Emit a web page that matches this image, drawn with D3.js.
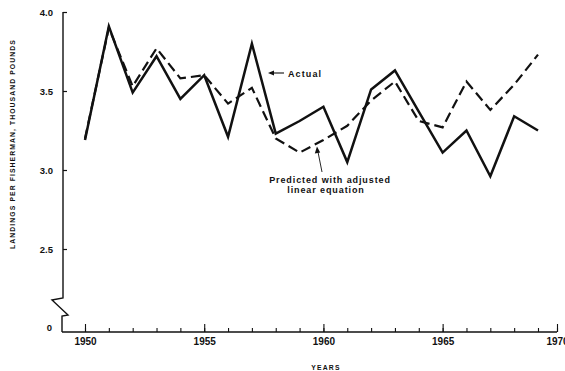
<!DOCTYPE html>
<html>
<head>
<meta charset="utf-8">
<script src="https://cdn.jsdelivr.net/npm/d3@7"></script>
<style>
  html, body { margin: 0; padding: 0; background: #fff; }
  svg { display: block; }
  text { font-family: "Liberation Sans", Arial, sans-serif; font-weight: bold; fill: #111; }
</style>
</head>
<body>
<svg id="chart" width="565" height="371"></svg>
<script>
// Landings per fisherman (thousand pounds), 1950-1969
const years = d3.range(1950, 1970);
const actual = [3.19, 3.91, 3.49, 3.72, 3.45, 3.60, 3.21, 3.80, 3.23, 3.31,
                3.40, 3.05, 3.51, 3.63, 3.37, 3.11, 3.25, 2.96, 3.34, 3.25];
const predicted = [3.20, 3.90, 3.53, 3.77, 3.58, 3.60, 3.42, 3.52, 3.20, 3.11,
                   3.19, 3.28, 3.44, 3.56, 3.31, 3.27, 3.56, 3.38, 3.54, 3.73];
const yTickValues = [2.5, 3.0, 3.5, 4.0];
const xLabelYears = [1950, 1955, 1960, 1965, 1970];

const svg = d3.select("#chart");

const x = d3.scaleLinear().domain([1950, 1969, 1970]).range([85, 538, 557]);
const y = d3.scaleLinear().domain([2.5, 4.0]).range([249, 12]);

const axisX = 63;      // vertical axis position
const baseY = 332;     // horizontal axis (zero) position
const breakTop = 298;  // where the broken axis zigzag starts

const ink = "#111";

// Vertical axis with break
svg.append("path")
  .attr("d", `M${axisX},${y(4.0)} L${axisX},${breakTop} L${axisX - 11},${breakTop + 2} L${axisX + 5},${breakTop + 17} L${axisX - 1},${breakTop + 18} L${axisX - 1},${baseY}`)
  .attr("fill", "none").attr("stroke", ink).attr("stroke-width", 1.4);

const yAxis = svg.append("g")
  .attr("transform", `translate(${axisX},0)`)
  .call(d3.axisLeft(y).tickValues(yTickValues).tickFormat(d3.format(".1f"))
    .tickSizeInner(-4).tickSizeOuter(0).tickPadding(10));
yAxis.select(".domain").remove();
yAxis.selectAll(".tick line").attr("stroke", ink).attr("stroke-width", 1.2);
yAxis.selectAll(".tick text").style("font-size", "9.5px").attr("fill", ink);

// Zero label at the axis base
svg.append("text").attr("x", 52).attr("y", baseY - 1).attr("text-anchor", "end")
  .style("font-size", "9.5px").text("0");

// Horizontal axis line
svg.append("line")
  .attr("x1", axisX - 1).attr("x2", x(1970))
  .attr("y1", baseY).attr("y2", baseY)
  .attr("stroke", ink).attr("stroke-width", 1.3);

// Minor yearly ticks
const xMinor = svg.append("g").attr("transform", `translate(0,${baseY})`)
  .call(d3.axisBottom(x).tickValues(d3.range(1950, 1971)).tickFormat("")
    .tickSizeInner(-4).tickSizeOuter(0));
xMinor.select(".domain").remove();
xMinor.selectAll(".tick line").attr("stroke", ink).attr("stroke-width", 1.1);

// Labelled five-year ticks
const xMajor = svg.append("g").attr("transform", `translate(0,${baseY})`)
  .call(d3.axisBottom(x).tickValues(xLabelYears).tickFormat(d3.format("d"))
    .tickSizeInner(-8).tickSizeOuter(0).tickPadding(6));
xMajor.select(".domain").remove();
xMajor.selectAll(".tick line").attr("stroke", ink).attr("stroke-width", 1.1);
xMajor.selectAll(".tick text").style("font-size", "10px").attr("fill", ink);

// Axis titles
svg.append("text")
  .attr("transform", "translate(15,144) rotate(-90)")
  .attr("text-anchor", "middle")
  .style("font-size", "6.8px").style("letter-spacing", "1.1px")
  .text("LANDINGS PER FISHERMAN, THOUSAND POUNDS");

svg.append("text")
  .attr("x", 326).attr("y", 370).attr("text-anchor", "middle")
  .style("font-size", "6.8px").style("letter-spacing", "1.2px")
  .text("YEARS");

// Series lines
const line = d3.line().x((d, i) => x(years[i])).y(d => y(d));

svg.append("path").datum(predicted)
  .attr("d", line)
  .attr("fill", "none").attr("stroke", ink).attr("stroke-width", 2.2)
  .attr("stroke-dasharray", "10,5").attr("stroke-linejoin", "miter");

svg.append("path").datum(actual)
  .attr("d", line)
  .attr("fill", "none").attr("stroke", ink).attr("stroke-width", 2.5)
  .attr("stroke-linejoin", "miter");

// "Actual" annotation with arrow
const ax0 = 268, ay0 = 73;
svg.append("line").attr("x1", ax0 + 2).attr("x2", ax0 + 16).attr("y1", ay0).attr("y2", ay0)
  .attr("stroke", ink).attr("stroke-width", 1.1);
svg.append("path").attr("d", `M${ax0},${ay0} L${ax0 + 6},${ay0 - 2.5} L${ax0 + 6},${ay0 + 2.5} Z`)
  .attr("fill", ink);
svg.append("text").attr("x", ax0 + 20).attr("y", ay0 + 3.5)
  .style("font-size", "9px").style("letter-spacing", "1.1px").text("Actual");

// "Predicted" annotation with leader arrow
svg.append("line").attr("x1", 322).attr("y1", 172).attr("x2", 318).attr("y2", 152)
  .attr("stroke", ink).attr("stroke-width", 0.9);
svg.append("path").attr("d", "M317,146.5 L314.8,153.5 L320.2,152.5 Z").attr("fill", ink);

svg.append("text").attr("x", 330).attr("y", 183).attr("text-anchor", "middle")
  .style("font-size", "9px").style("letter-spacing", "0.9px").text("Predicted with adjusted");
svg.append("text").attr("x", 326).attr("y", 193).attr("text-anchor", "middle")
  .style("font-size", "9px").style("letter-spacing", "0.9px").text("linear equation");
</script>
</body>
</html>
